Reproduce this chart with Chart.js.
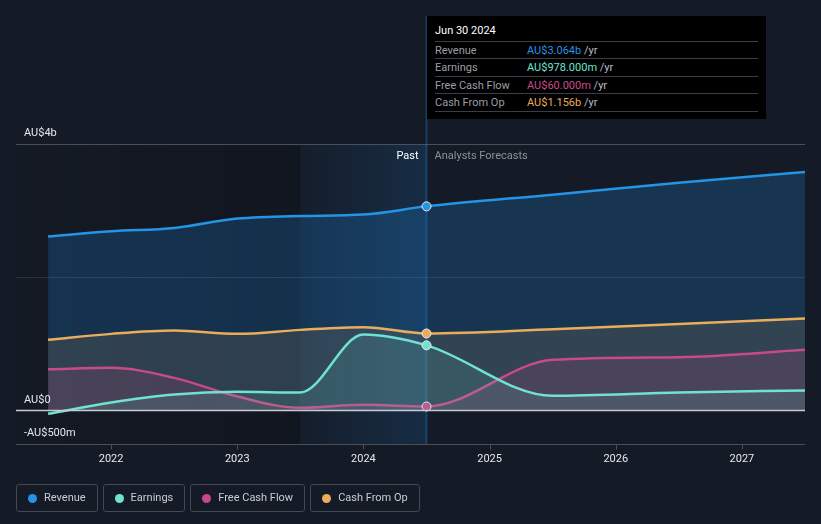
<!DOCTYPE html>
<html>
<head>
<meta charset="utf-8">
<script src="https://cdn.jsdelivr.net/npm/chart.js@4"></script>
<style>
  html, body { margin: 0; padding: 0; background: #151b26; }
  body { width: 821px; height: 524px; position: relative; overflow: hidden; font-family: Roboto, sans-serif; }
  #wrap { position: absolute; left: 0; top: 0; width: 821px; height: 524px; }
  .tip { position: absolute; left: 427px; top: 16px; width: 339px; height: 103px; background: #000; }
  .tip .ttl { position: absolute; left: 8px; top: 8px; color: #fff; font-size: 11px; }
  .tip .row { position: absolute; left: 8px; width: 323px; height: 17px; border-top: 1px solid #3a3f47; font-size: 11px; line-height: 17px; }
  .tip .row.last { border-bottom: 1px solid #3a3f47; }
  .tip .lbl { position: absolute; left: 0; color: #9a9ea6; }
  .tip .val { position: absolute; left: 92px; }
  .tip .val span { color: #b9bdc4; }
  .legend { position: absolute; top: 484px; left: 16px; display: flex; gap: 5px; }
  .legend div { border: 1px solid #434953; border-radius: 3px; color: #c9ccd1; font-size: 11px; line-height: 26px; padding: 0 11px 0 27px; position: relative; box-sizing: border-box; height: 28px; }
  .legend i { position: absolute; left: 11px; top: 9px; width: 9px; height: 9px; border-radius: 50%; }
</style>
</head>
<body>
<div id="wrap"><canvas id="myChart" width="821" height="524"></canvas></div>
<div class="tip">
  <div class="ttl">Jun 30 2024</div>
  <div class="row" style="top:25px"><span class="lbl">Revenue</span><span class="val" style="color:#2394e6">AU$3.064b <span>/yr</span></span></div>
  <div class="row" style="top:42px"><span class="lbl">Earnings</span><span class="val" style="color:#6fe3d0">AU$978.000m <span>/yr</span></span></div>
  <div class="row" style="top:60px"><span class="lbl">Free Cash Flow</span><span class="val" style="color:#cc4a8c">AU$60.000m <span>/yr</span></span></div>
  <div class="row last" style="top:77px"><span class="lbl">Cash From Op</span><span class="val" style="color:#e9ad5c">AU$1.156b <span>/yr</span></span></div>
</div>
<div class="legend">
  <div><i style="background:#2394e6"></i>Revenue</div>
  <div><i style="background:#6fe3d0"></i>Earnings</div>
  <div><i style="background:#c6478a"></i>Free Cash Flow</div>
  <div><i style="background:#e9ad5c"></i>Cash From Op</div>
</div>
<script>
// fiscal year ends (Jun 30), past then analyst forecasts, values in AU$ billions
const years = [2021.5, 2022, 2022.5, 2023, 2023.5, 2024, 2024.5, 2025.5, 2026.5, 2027.5];
const revenue = [2.61, 2.69, 2.74, 2.88, 2.92, 2.94, 3.064, 3.24, 3.42, 3.58];
const earnings = [-0.05, 0.12, 0.24, 0.28, 0.27, 1.14, 0.978, 0.22, 0.27, 0.30];
const freeCashFlow = [0.62, 0.64, 0.49, 0.21, 0.04, 0.085, 0.06, 0.76, 0.80, 0.91];
const cashFromOp = [1.06, 1.15, 1.20, 1.15, 1.21, 1.25, 1.156, 1.22, 1.30, 1.38];

const xTicks = [2022, 2023, 2024, 2025, 2026, 2027];
const yLabels = [{ v: 4, t: 'AU$4b' }, { v: 0, t: 'AU$0' }, { v: -0.5, t: '-AU$500m' }];
const pastStart = 2023.5;
const nowX = 2024.5;

const pts = arr => arr.map((v, i) => ({ x: years[i], y: v }));

const series = [
  { label: 'Revenue', data: revenue, color: '#2394e6', fill: 'rgba(33,140,230,0.22)', order: 4 },
  { label: 'Cash From Op', data: cashFromOp, color: '#e9ad5c', fill: 'rgba(233,173,92,0.13)', order: 3 },
  { label: 'Free Cash Flow', data: freeCashFlow, color: '#c84a8a', fill: 'rgba(200,74,138,0.16)', order: 2 },
  { label: 'Earnings', data: earnings, color: '#6fe3d0', fill: 'rgba(111,227,208,0.12)', order: 1 }
];

const backdrop = {
  id: 'backdrop',
  beforeDatasetsDraw(chart) {
    const { ctx, chartArea: a, scales: { x, y } } = chart;
    const xp = x.getPixelForValue(pastStart);
    const xn = x.getPixelForValue(nowX);
    ctx.save();
    let g = ctx.createLinearGradient(a.left, 0, xp, 0);
    g.addColorStop(0, 'rgba(10,12,18,0.05)');
    g.addColorStop(1, 'rgba(10,12,18,0.3)');
    ctx.fillStyle = g;
    ctx.fillRect(a.left, a.top, xp - a.left, a.bottom - a.top);
    g = ctx.createLinearGradient(xp, 0, xn, 0);
    g.addColorStop(0, 'rgba(33,140,230,0.03)');
    g.addColorStop(1, 'rgba(33,140,230,0.16)');
    ctx.fillStyle = g;
    ctx.fillRect(xp, a.top, xn - xp, a.bottom - a.top);
    // grid
    ctx.lineWidth = 1;
    ctx.strokeStyle = '#4a505a';
    ctx.beginPath();
    ctx.moveTo(a.left, Math.round(y.getPixelForValue(4)) + 0.5);
    ctx.lineTo(a.right, Math.round(y.getPixelForValue(4)) + 0.5);
    ctx.stroke();
    ctx.strokeStyle = 'rgba(90,100,115,0.35)';
    ctx.beginPath();
    ctx.moveTo(a.left, Math.round(y.getPixelForValue(2)) + 0.5);
    ctx.lineTo(a.right, Math.round(y.getPixelForValue(2)) + 0.5);
    ctx.stroke();
    // cursor line
    ctx.strokeStyle = 'rgba(33,140,230,0.3)';
    ctx.lineWidth = 2;
    ctx.beginPath();
    ctx.moveTo(xn, 16);
    ctx.lineTo(xn, a.bottom);
    ctx.stroke();
    ctx.restore();
  },
  afterDatasetsDraw(chart) {
    const { ctx, chartArea: a, scales: { x, y } } = chart;
    ctx.save();
    const y0 = Math.round(y.getPixelForValue(0)) + 0.5;
    ctx.strokeStyle = '#c8ccd2';
    ctx.lineWidth = 1.5;
    ctx.beginPath();
    ctx.moveTo(a.left, y0);
    ctx.lineTo(a.right, y0);
    ctx.stroke();
    const yb = Math.round(y.getPixelForValue(-0.5)) + 0.5;
    ctx.strokeStyle = '#4a505a';
    ctx.lineWidth = 1;
    ctx.beginPath();
    ctx.moveTo(a.left, yb);
    ctx.lineTo(a.right, yb);
    xTicks.forEach(t => {
      const px = Math.round(x.getPixelForValue(t)) + 0.5;
      ctx.moveTo(px, yb);
      ctx.lineTo(px, yb + 5);
    });
    ctx.stroke();
    ctx.font = '11px Roboto';
    ctx.fillStyle = '#e6e8eb';
    ctx.textBaseline = 'bottom';
    yLabels.forEach(l => ctx.fillText(l.t, a.left + 8, y.getPixelForValue(l.v) - 5));
    const xn = x.getPixelForValue(nowX);
    ctx.textBaseline = 'middle';
    ctx.textAlign = 'right';
    ctx.fillStyle = '#ffffff';
    ctx.fillText('Past', xn - 8, a.top + 12);
    ctx.textAlign = 'left';
    ctx.fillStyle = '#8b9099';
    ctx.fillText('Analysts Forecasts', xn + 8, a.top + 12);
    ctx.restore();
  }
};

const ctx = document.getElementById('myChart').getContext('2d');
const chart = new Chart(ctx, {
  type: 'line',
  data: {
    datasets: series.map(s => ({
      label: s.label,
      data: pts(s.data),
      borderColor: s.color,
      backgroundColor: s.fill,
      fill: 'origin',
      borderWidth: 2.5,
      cubicInterpolationMode: 'monotone',
      order: s.order,
      pointRadius: c => (c.raw && c.raw.x === nowX ? 4.5 : 0),
      pointBackgroundColor: s.color,
      pointBorderColor: '#e8eaee',
      pointBorderWidth: 1
    }))
  },
  options: {
    animation: false,
    responsive: false,
    layout: { padding: { left: 16, right: 16, top: 144, bottom: 57 } },
    plugins: { legend: { display: false }, tooltip: { enabled: false } },
    scales: {
      x: {
        type: 'linear',
        min: 2021.246,
        max: 2027.5,
        border: { display: false },
        grid: { display: false },
        afterBuildTicks: axis => { axis.ticks = xTicks.map(v => ({ value: v })); },
        ticks: { color: '#e6e8eb', font: { family: 'Roboto', size: 11 }, padding: 1, callback: v => String(v), maxRotation: 0 }
      },
      y: { min: -0.5, max: 4, display: false }
    }
  },
  plugins: [backdrop]
});
</script>
</body>
</html>
